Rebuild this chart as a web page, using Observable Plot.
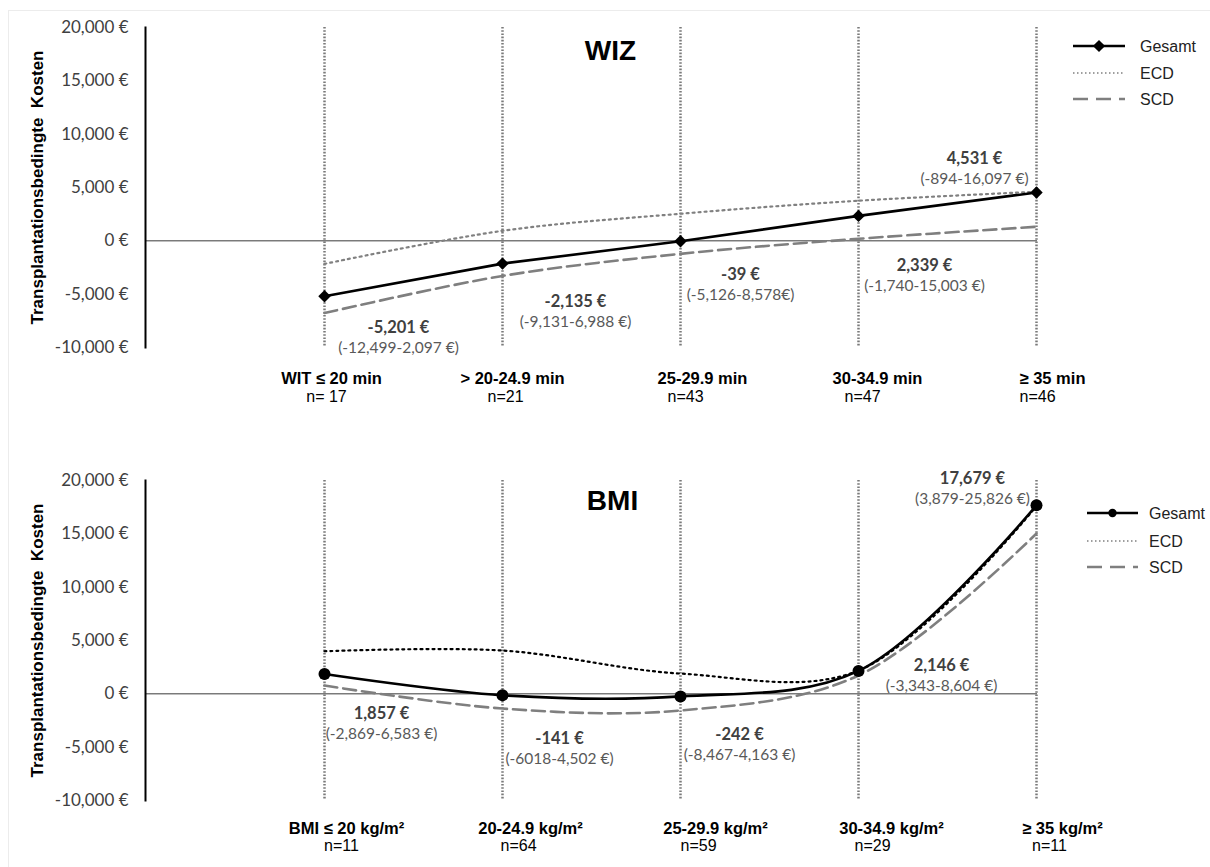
<!DOCTYPE html>
<html><head><meta charset="utf-8">
<script src="https://cdn.jsdelivr.net/npm/d3@7"></script>
<script src="https://cdn.jsdelivr.net/npm/@observablehq/plot@0.6"></script>
<style>
body{margin:0;background:#fff;}
#wrap{position:relative;width:1210px;height:867px;overflow:hidden;background:#fff;}
#border{position:absolute;left:8px;top:10px;width:1210px;height:870px;border-left:1px solid #ececec;border-top:1px solid #ececec;}
.panel{position:absolute;left:0;}
</style></head><body><div id="wrap"><div id="border"></div></div>
<script>
// ---------- data ----------
const yTicks = [-10000, -5000, 0, 5000, 10000, 15000, 20000];
const yTitle = "Transplantationsbedingte  Kosten";
const seriesNames = ["Gesamt", "ECD", "SCD"];

const wizTitle = "WIZ";
const wizCats = ["WIT ≤ 20 min", "> 20-24.9 min", "25-29.9 min", "30-34.9 min", "≥ 35 min"];
const wizN = ["n= 17", "n=21", "n=43", "n=47", "n=46"];
const wizGesamt = [-5201, -2135, -39, 2339, 4531];
const wizECD = [-2160, 940, 2540, 3760, 4600];
const wizSCD = [-6770, -3290, -1220, 190, 1320];
const wizValueText = ["-5,201 €", "-2,135 €", "-39 €", "2,339 €", "4,531 €"];
const wizCIText = ["(-12,499-2,097 €)", "(-9,131-6,988 €)", "(-5,126-8,578€)", "(-1,740-15,003 €)", "(-894-16,097 €)"];

const bmiTitle = "BMI";
const bmiCats = ["BMI ≤ 20 kg/m²", "20-24.9 kg/m²", "25-29.9 kg/m²", "30-34.9 kg/m²", "≥ 35 kg/m²"];
const bmiN = ["n=11", "n=64", "n=59", "n=29", "n=11"];
const bmiGesamt = [1857, -141, -242, 2146, 17679];
const bmiECD = [3990, 4060, 1900, 2180, 17600];
const bmiSCD = [780, -1380, -1560, 1720, 15030];
const bmiValueText = ["1,857 €", "-141 €", "-242 €", "2,146 €", "17,679 €"];
const bmiCIText = ["(-2,869-6,583 €)", "(-6018-4,502 €)", "(-8,467-4,163 €)", "(-3,343-8,604 €)", "(3,879-25,826 €)"];

// ---------- layout (annotation offsets in px) ----------
const wizLayout = {
  top: 0, marginTop: 27, marginBottom: 86, symbol: "diamond2", r: 5.6, gesamtCurve: "linear", ecdColor: "#808080",
  titleDx: 19, titleDy: 13,
  valDx: [74, 73, 60, 66, -62], valDy: [294, 268, 241, 232, 125], ciGap: 20,
  catDx: [7, 10, 22, 19, 16], catDy: 36, nDx: [2, 3, 5, 4, 1], nDy: 54
};
const bmiLayout = {
  top: 433, marginTop: 47, marginBottom: 66, symbol: "circle", r: 6, gesamtCurve: "catmull-rom", ecdColor: "#000",
  titleDx: 21, titleDy: 10,
  valDx: [57, 57, 59, 83, -64], valDy: [227, 252, 248, 179, -8], ciGap: 20.5,
  catDx: [22, 28, 35, 33, 26], catDy: 33, nDx: [17, 16, 18, 14, 13], nDy: 50
};

const fmtEuro = d => (d < 0 ? "-" : "") + d3.format(",")(Math.abs(d)) + " €";

function panel(cats, nText, gesamt, ecd, scd, valText, ciText, title, L) {
  const rows = arr => cats.map((c, i) => ({cat: c, v: arr[i]}));
  const marks = [
    Plot.ruleX(cats, {stroke: "#7a7a7a", strokeWidth: 2.5, strokeDasharray: "1.6,1.6"}),
    Plot.ruleY([0], {stroke: "#3a3a3a", strokeWidth: 1}),
    Plot.frame({anchor: "left", stroke: "#000", strokeWidth: 2}),
    Plot.axisY(yTicks, {tickSize: 0, tickPadding: 17, tickFormat: fmtEuro, fontSize: 17, fontFamily: "Lato", fill: "#404040", label: null}),
    Plot.text([yTitle], {frameAnchor: "left", textAnchor: "middle", dx: -108, rotate: -90, text: d => d, fontFamily: "Liberation Sans, Arial", fontWeight: "bold", fontSize: 17, fill: "#000"}),
    Plot.text([title], {frameAnchor: "top", dx: L.titleDx, dy: L.titleDy, text: d => d, fontFamily: "Liberation Sans, Arial", fontWeight: "bold", fontSize: 28, fill: "#000"}),
    Plot.line(rows(scd), {x: "cat", y: "v", stroke: "#7f7f7f", strokeWidth: 2.6, strokeDasharray: "13,6", curve: "catmull-rom"}),
    Plot.line(rows(ecd), {x: "cat", y: "v", stroke: L.ecdColor, strokeWidth: 2.2, strokeDasharray: "2,4", curve: "catmull-rom"}),
    Plot.line(rows(gesamt), {x: "cat", y: "v", stroke: "#000", strokeWidth: 2.6, curve: L.gesamtCurve}),
    Plot.dot(rows(gesamt), {x: "cat", y: "v", symbol: L.symbol, r: L.r, fill: "#000", stroke: "none"})
  ];
  cats.forEach((c, i) => {
    marks.push(Plot.text([valText[i]], {x: () => c, frameAnchor: "top", textAnchor: "middle", dx: L.valDx[i], dy: L.valDy[i], text: d => d, fontFamily: "Lato", fontWeight: "bold", fontSize: 16.5, fill: "#404040"}));
    marks.push(Plot.text([ciText[i]], {x: () => c, frameAnchor: "top", textAnchor: "middle", dx: L.valDx[i], dy: L.valDy[i] + L.ciGap, text: d => d, fontFamily: "Lato", fontSize: 15.5, fill: "#595959"}));
    marks.push(Plot.text([c], {x: () => c, frameAnchor: "bottom", textAnchor: "middle", dx: L.catDx[i], dy: L.catDy, text: d => d, fontFamily: "Liberation Sans, Arial", fontWeight: "bold", fontSize: 16.5, fill: "#000"}));
    marks.push(Plot.text([nText[i]], {x: () => c, frameAnchor: "bottom", textAnchor: "middle", dx: L.nDx[i], dy: L.nDy, text: d => d, fontFamily: "Liberation Sans, Arial", fontSize: 16, fill: "#000"}));
  });
  const svg = Plot.plot({
    width: 1210, height: 433,
    marginLeft: 145, marginRight: 173, marginTop: L.marginTop, marginBottom: L.marginBottom,
    x: {type: "point", domain: cats, range: [323, 1037], padding: 0, axis: null},
    y: {domain: [-10000, 20000], axis: null},
    style: {background: "transparent", overflow: "visible"},
    marks
  });
  svg.classList.add("panel");
  svg.style.top = L.top + "px";
  document.getElementById("wrap").appendChild(svg);
}

panel(wizCats, wizN, wizGesamt, wizECD, wizSCD, wizValueText, wizCIText, wizTitle, wizLayout);
panel(bmiCats, bmiN, bmiGesamt, bmiECD, bmiSCD, bmiValueText, bmiCIText, bmiTitle, bmiLayout);

// ---------- legends ----------
const lg = d3.select("#wrap").append("svg")
  .attr("width", 1210).attr("height", 867)
  .style("position", "absolute").style("left", 0).style("top", 0);

function legend(ys, x0, x1, tx, marker) {
  const styles = [
    {stroke: "#000", width: 2.6, dash: null},
    {stroke: "#808080", width: 1.6, dash: "1.5,2.5"},
    {stroke: "#7f7f7f", width: 2.6, dash: "15,8"}
  ];
  seriesNames.forEach((name, i) => {
    const s = styles[i];
    lg.append("line").attr("x1", x0).attr("x2", x1).attr("y1", ys[i]).attr("y2", ys[i])
      .attr("stroke", s.stroke).attr("stroke-width", s.width).attr("stroke-dasharray", s.dash);
    lg.append("text").attr("x", tx).attr("y", ys[i]).attr("dy", "0.35em")
      .attr("font-family", "Liberation Sans, Arial").attr("font-size", 16).attr("fill", "#222").text(name);
  });
  const mx = (x0 + x1) / 2;
  if (marker === "diamond") {
    lg.append("path").attr("d", d3.symbol(d3.symbolDiamond2, 95)()).attr("transform", `translate(${mx},${ys[0]})`).attr("fill", "#000");
  } else {
    lg.append("circle").attr("cx", mx).attr("cy", ys[0]).attr("r", 4.2).attr("fill", "#000");
  }
}
legend([46, 73, 99], 1073, 1125, 1140, "diamond");
legend([513, 541, 567], 1087, 1138, 1149, "circle");
</script>
</body></html>
